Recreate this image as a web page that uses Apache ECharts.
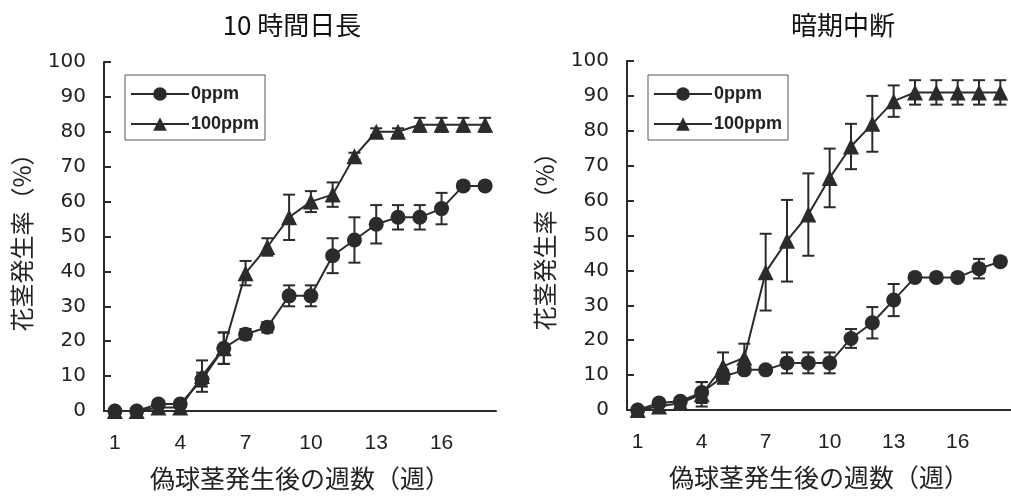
<!DOCTYPE html>
<html>
<head>
<meta charset="utf-8">
<title>花茎発生率</title>
<script src="https://cdn.jsdelivr.net/npm/echarts@6/dist/echarts.min.js"></script>
<style>
  html, body { margin: 0; padding: 0; background: #fff; }
  #chart { width: 1011px; height: 497px; }
</style>
</head>
<body>
<div id="chart"></div>
<script>
// 週数（カテゴリ）
const weeks = ['1', '2', '3', '4', '5', '6', '7', '8', '9', '10', '11', '12', '13', '14', '15', '16', '17', '18'];

// 10時間日長
const dayMean0 = [0, 0, 2, 2, 9, 18, 22, 24, 33, 33, 44.5, 49, 53.5, 55.5, 55.5, 58, 64.5, 64.5];
const dayErr0 = [0, 0, 1, 1, 2, 4.5, 1.5, 1.5, 3, 3, 5, 6.5, 5.5, 3.5, 3.5, 4.5, 1, 1];
const dayMean100 = [0, 0, 1, 1, 10, 18, 39.5, 47, 55.5, 60, 62, 73, 80, 80, 82, 82, 82, 82];
const dayErr100 = [0, 0, 1, 1, 4.5, 4.5, 3.5, 2.5, 6.5, 3, 3.5, 1, 1, 1, 2, 2, 2, 2];

// 暗期中断
const nightMean0 = [0, 2, 2.5, 5, 9.5, 11.5, 11.5, 13.5, 13.5, 13.5, 20.5, 25, 31.5, 38, 38, 38, 40.5, 42.5];
const nightErr0 = [0, 1, 1, 3, 2, 1, 1, 3, 3, 3, 2.7, 4.5, 4.6, 1, 1, 1, 2.8, 1];
const nightMean100 = [0, 1, 2, 4.5, 12.5, 15, 39.5, 48.5, 56, 66.5, 75.5, 82, 88.5, 91, 91, 91, 91, 91];
const nightErr100 = [0, 1, 1, 3.5, 4, 4, 11, 11.7, 11.8, 8.4, 6.5, 8, 4.5, 3.5, 3.5, 3.5, 3.5, 3.5];

const yTicks = { min: 0, max: 100, interval: 10 };
const seriesNames = ['0ppm', '100ppm'];

const ink = '#2b2b2b';
const numFont = 'DejaVu Sans';
const cjkFont = 'Noto Sans CJK JP';

// エラーバー（custom series）
function errorBars(mean, err, idx) {
  const data = [];
  mean.forEach((m, i) => {
    if (err[i] > 0) data.push([i, m - err[i], m + err[i]]);
  });
  return {
    type: 'custom',
    name: 'err',
    xAxisIndex: idx,
    yAxisIndex: idx,
    silent: true,
    z: 1,
    data: data,
    renderItem: function (params, api) {
      const x = api.value(0);
      const lo = api.coord([x, api.value(1)]);
      const hi = api.coord([x, api.value(2)]);
      const w = 6;
      const style = { stroke: ink, lineWidth: 2 };
      return {
        type: 'group',
        children: [
          { type: 'line', shape: { x1: lo[0], y1: lo[1], x2: hi[0], y2: hi[1] }, style: style },
          { type: 'line', shape: { x1: hi[0] - w, y1: hi[1], x2: hi[0] + w, y2: hi[1] }, style: style },
          { type: 'line', shape: { x1: lo[0] - w, y1: lo[1], x2: lo[0] + w, y2: lo[1] }, style: style }
        ]
      };
    }
  };
}

function lineSeries(name, data, idx, symbol, size) {
  return {
    name: name,
    type: 'line',
    xAxisIndex: idx,
    yAxisIndex: idx,
    data: data,
    symbol: symbol,
    symbolSize: size,
    showAllSymbol: true,
    z: 3,
    lineStyle: { color: ink, width: 2 },
    itemStyle: { color: ink },
    animation: false
  };
}

function xAxis(idx) {
  return {
    type: 'category',
    gridIndex: idx,
    data: weeks,
    boundaryGap: true,
    name: '偽球茎発生後の週数（週）',
    nameLocation: 'middle',
    nameGap: 55,
    nameTextStyle: { fontFamily: cjkFont, fontSize: 25, color: '#222' },
    axisLine: { lineStyle: { color: ink, width: 2 } },
    axisTick: { inside: true, length: 7, interval: 0, lineStyle: { color: ink, width: 2 } },
    axisLabel: { interval: 2, margin: 22, fontFamily: 'Liberation Sans', fontSize: 21, color: '#222' },
    splitLine: { show: false }
  };
}

function yAxis(idx) {
  return {
    type: 'value',
    gridIndex: idx,
    min: yTicks.min,
    max: yTicks.max,
    interval: yTicks.interval,
    name: '花茎発生率（%）',
    nameLocation: 'middle',
    nameGap: 70,
    nameTextStyle: { fontFamily: cjkFont, fontSize: 24, color: '#222' },
    axisLine: { show: true, lineStyle: { color: ink, width: 2 } },
    axisTick: { show: true, inside: true, length: 7, lineStyle: { color: ink, width: 2 } },
    axisLabel: { margin: 18, fontFamily: numFont, fontSize: 20, color: '#222' },
    splitLine: { show: false }
  };
}

function legend(left) {
  return {
    data: seriesNames,
    orient: 'vertical',
    left: left,
    top: 75,
    padding: [10, 6, 7, 5],
    itemGap: 12,
    itemWidth: 58,
    itemHeight: 17,
    borderColor: '#555',
    borderWidth: 1,
    selectedMode: false,
    textStyle: { fontFamily: 'Liberation Sans', fontSize: 18, fontWeight: 'bold', color: '#222', padding: [0, 0, 0, -3] }
  };
}

const myChart = echarts.init(document.getElementById('chart'), null, { renderer: 'canvas' });
const chartOption = {
  backgroundColor: '#fff',
  animation: false,
  title: [
    { text: '10 時間日長', left: 287, top: 7, textAlign: 'center', textStyle: { fontFamily: cjkFont, fontSize: 26, fontWeight: 'normal', color: '#111' } },
    { text: '暗期中断', left: 838, top: 7, textAlign: 'center', textStyle: { fontFamily: cjkFont, fontSize: 26, fontWeight: 'normal', color: '#111' } }
  ],
  legend: [legend(125), legend(648)],
  grid: [
    { left: 104, top: 62, width: 392, height: 349 },
    { left: 627, top: 61, width: 390, height: 349 }
  ],
  xAxis: [xAxis(0), xAxis(1)],
  yAxis: [yAxis(0), yAxis(1)],
  series: [
    lineSeries('0ppm', dayMean0, 0, 'circle', 15),
    lineSeries('100ppm', dayMean100, 0, 'triangle', 16),
    lineSeries('0ppm', nightMean0, 1, 'circle', 15),
    lineSeries('100ppm', nightMean100, 1, 'triangle', 16),
    errorBars(dayMean0, dayErr0, 0),
    errorBars(dayMean100, dayErr100, 0),
    errorBars(nightMean0, nightErr0, 1),
    errorBars(nightMean100, nightErr100, 1)
  ]
};
myChart.setOption(chartOption);
</script>
</body>
</html>
